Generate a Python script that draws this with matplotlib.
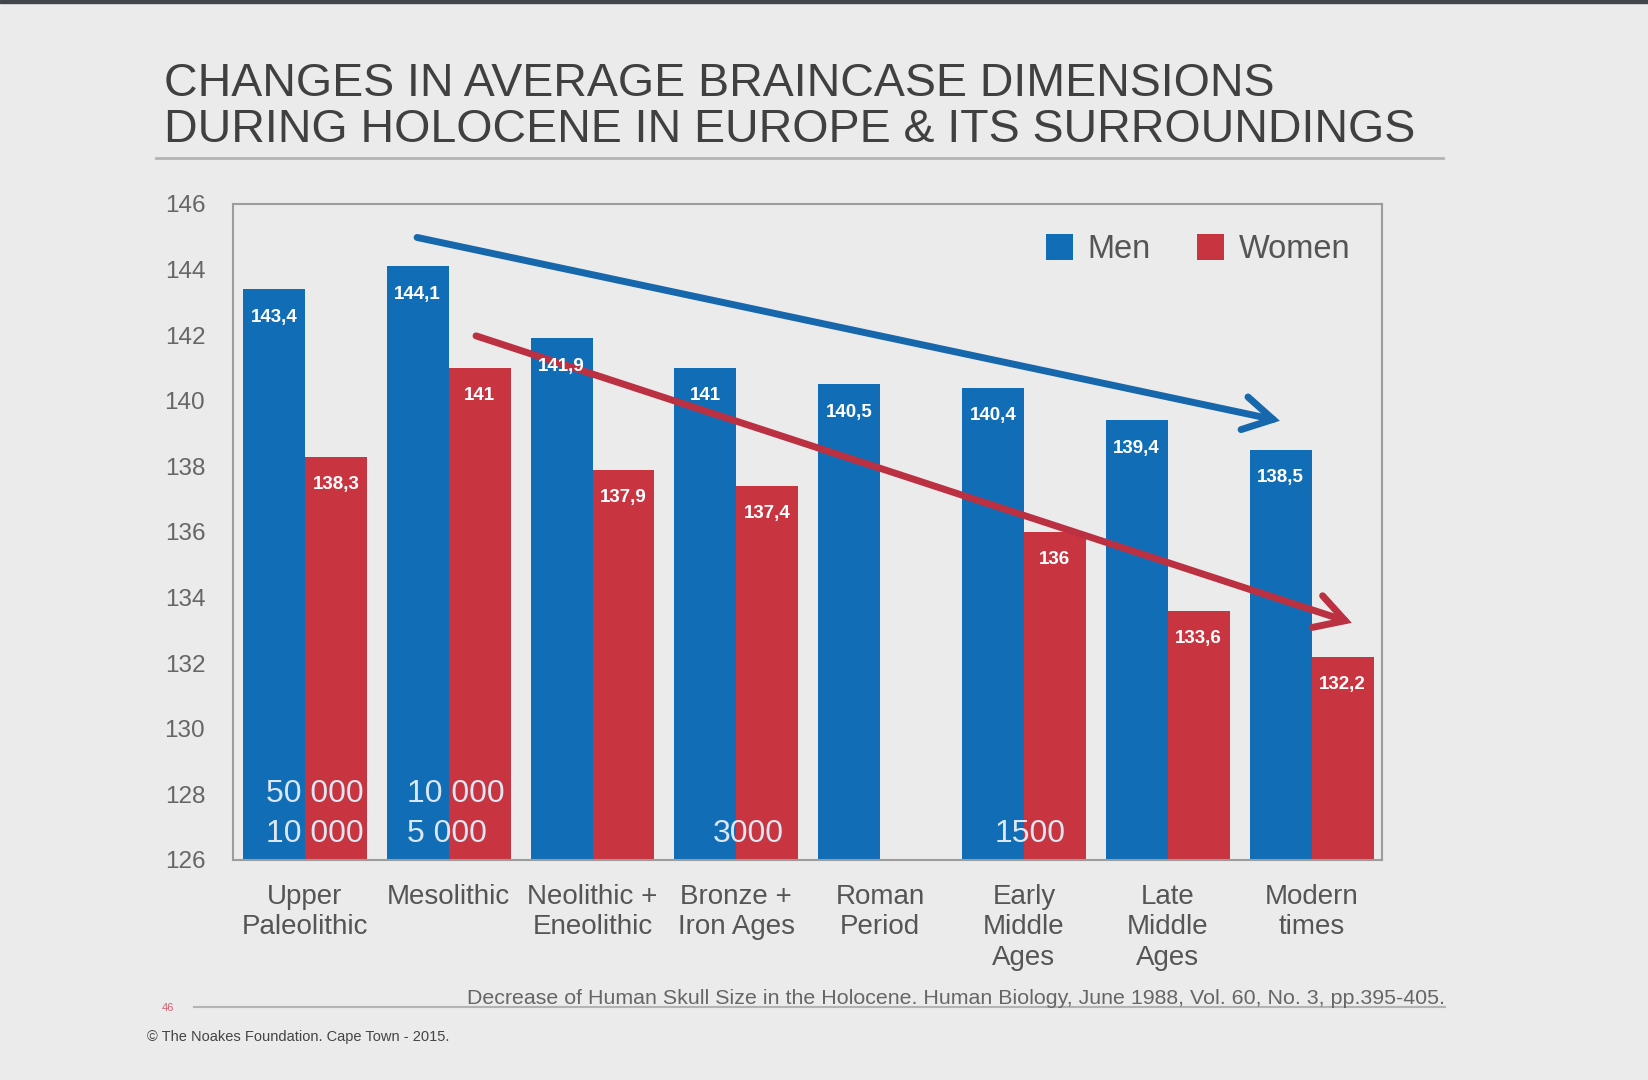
import numpy as np
import matplotlib
matplotlib.use("Agg")
from matplotlib import pyplot as plt
from matplotlib.patches import Rectangle, FancyArrowPatch

# ---------------------------------------------------------------
# data
# ---------------------------------------------------------------
periods = ["Upper\nPaleolithic", "Mesolithic", "Neolithic +\nEneolithic", "Bronze +\nIron Ages",
           "Roman\nPeriod", "Early\nMiddle\nAges", "Late\nMiddle\nAges", "Modern\ntimes"]
men = [143.4, 144.1, 141.9, 141.0, 140.5, 140.4, 139.4, 138.5]
women = [138.3, 141.0, 137.9, 137.4, np.nan, 136.0, 133.6, 132.2]
y_ticks = [126, 128, 130, 132, 134, 136, 138, 140, 142, 144, 146]

# years BP printed at the bottom of some bar pairs
date_labels = ["50 000\n10 000", "10 000\n5 000", "3000", "1500"]
date_periods = [0, 1, 3, 5]

# trend arrows (start x, start y, end x, end y) in data units
men_trend = (0.78, 144.98, 6.78, 139.39)
women_trend = (1.19, 141.98, 7.28, 133.23)

title_lines = ["CHANGES IN AVERAGE BRAINCASE DIMENSIONS",
               "DURING HOLOCENE IN EUROPE & ITS SURROUNDINGS"]
source = "Decrease of Human Skull Size in the Holocene. Human Biology, June 1988, Vol. 60, No. 3, pp.395-405."
copyright_txt = "\u00a9 The Noakes Foundation. Cape Town - 2015."

BG = "#ebebeb"
BLUE = "#116eb6"
RED = "#c8343f"
plt.rcParams["font.family"] = ["Liberation Sans", "DejaVu Sans"]

fig = plt.figure(figsize=(16.48, 10.8), dpi=100, facecolor=BG)
ax = fig.add_axes([233 / 1648, 220 / 1080, 1149 / 1648, 656 / 1080], facecolor=BG)

x = np.arange(len(periods))
w = 0.431
b_men = ax.bar(x - w / 2, np.array(men) - 126, w, bottom=126, color=BLUE, label="Men")
b_wom = ax.bar(x + w / 2, np.array(women) - 126, w, bottom=126, color=RED, label="Women")

# value labels inside the bars, comma as decimal sign
for xs, vals in ((x - w / 2, men), (x + w / 2, women)):
    for xi, v in zip(xs, vals):
        if np.isnan(v):
            continue
        ax.text(xi, v - 0.85, f"{v:g}".replace(".", ","), ha="center", va="center",
                color="white", fontsize=13.5, fontweight="bold")

# period dates
date_x = {0: (-0.27, "left"), 1: (0.71, "left"), 3: (3.08, "center"), 5: (5.04, "center")}
for lab, p in zip(date_labels, date_periods):
    xx, ha = date_x[p]
    lines = lab.split("\n")
    ys = [128.0, 126.78] if len(lines) == 2 else [126.78]
    for ln, yy in zip(lines, ys):
        ax.text(xx, yy, ln, ha=ha, va="center", color="#dbe8f4", fontsize=23)

# trend arrows
for (x0, y0, x1, y1), col in ((men_trend, "#1767ac"), (women_trend, "#bb3142")):
    arr = FancyArrowPatch((x0, y0), (x1, y1), arrowstyle="->,head_length=21,head_width=12",
                          mutation_scale=1, lw=5, color=col, capstyle="round",
                          joinstyle="miter", shrinkA=0, shrinkB=0)
    ax.add_patch(arr)

ax.set_xlim(-0.5, 7.49)
ax.set_ylim(126, 146)
ax.set_yticks(y_ticks)
ax.set_xticks(x)
ax.set_xticklabels(periods, fontsize=20, color="#555555", linespacing=1.24)
ax.tick_params(axis="y", length=0, pad=20, labelsize=17.5, labelcolor="#666666")
ax.tick_params(axis="x", length=0, pad=17)
for s in ax.spines.values():
    s.set_color("#9c9c9c")
    s.set_linewidth(1.5)

leg = ax.legend(handles=[b_men, b_wom], loc="upper left", bbox_to_anchor=(0.7076, 0.954),
                ncol=2, frameon=False, fontsize=23.5, handlelength=0.82, handleheight=0.82,
                handletextpad=0.45, columnspacing=1.42, borderpad=0, borderaxespad=0)
for t in leg.get_texts():
    t.set_color("#555555")

# slide decoration
fig.patches.append(Rectangle((0, 1 - 3 / 1080), 1, 3 / 1080, transform=fig.transFigure,
                             color="#41464d", zorder=5))
fig.text(164 / 1648, 1 - 84 / 1080, title_lines[0], fontsize=33.5, color="#404040", va="center")
fig.text(164 / 1648, 1 - 130 / 1080, title_lines[1], fontsize=33.5, color="#404040", va="center")
fig.add_artist(plt.Line2D([156 / 1648, 1443 / 1648], [1 - 158 / 1080] * 2,
                          color="#b4b4b4", lw=2, transform=fig.transFigure))
fig.add_artist(plt.Line2D([194 / 1648, 1445 / 1648], [1 - 1007 / 1080] * 2,
                          color="#b4b4b4", lw=1.5, transform=fig.transFigure))
fig.text(1445 / 1648, 1 - 1004 / 1080, source, fontsize=15.4, color="#666666", ha="right", va="baseline")
fig.text(168 / 1648, 1 - 1008 / 1080, "46", fontsize=8, color="#d06070", ha="center", va="center")
fig.text(147 / 1648, 1 - 1037 / 1080, copyright_txt, fontsize=10.5, color="#444444", va="center")

fig.savefig("out.png", dpi=100, facecolor=BG)
